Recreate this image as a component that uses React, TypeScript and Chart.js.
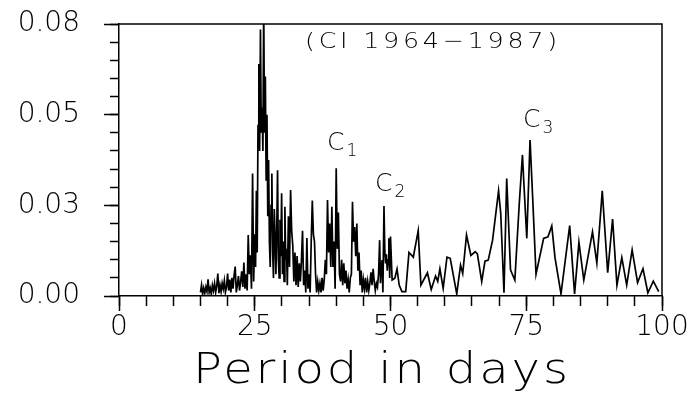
import React, { useEffect, useRef } from 'react';
import { Chart, registerables } from 'chart.js';

Chart.register(...registerables);

// ---- data (period in days, spectral power) ----
const periodDense = [
  15.0, 15.2, 15.4, 15.6, 15.8, 16.0, 16.2, 16.4, 16.6, 16.8,
  17.0, 17.2, 17.4, 17.6, 17.8, 18.0, 18.2, 18.4, 18.6, 18.8,
  19.0, 19.2, 19.4, 19.6, 19.8, 20.0, 20.2, 20.4, 20.6, 20.8,
  21.0, 21.2, 21.4, 21.6, 21.8, 22.0, 22.2, 22.4, 22.6, 22.8,
  23.0, 23.2, 23.4, 23.6, 23.8, 24.0, 24.2, 24.4, 24.6, 24.8,
  25.0, 25.15, 25.3, 25.45, 25.6, 25.75, 25.9, 26.05, 26.2, 26.35,
  26.5, 26.65, 26.8, 26.95, 27.1, 27.25, 27.4, 27.55, 27.7, 27.85,
  28.0, 28.15, 28.3, 28.45, 28.6, 28.75, 28.9, 29.05, 29.2, 29.35,
  29.5, 29.65, 29.8, 29.95, 30.1, 30.25, 30.4, 30.55, 30.7, 30.85,
  31.0, 31.2, 31.4, 31.6, 31.8, 32.0, 32.2, 32.4, 32.6, 32.8,
  33.0, 33.2, 33.4, 33.6, 33.8, 34.0, 34.2, 34.4, 34.6, 34.8,
  35.0, 35.2, 35.4, 35.6, 35.8, 36.0, 36.2, 36.4, 36.6, 36.8,
  37.0, 37.2, 37.4, 37.6, 37.8, 38.0, 38.2, 38.4, 38.6, 38.8,
  39.0, 39.2, 39.4, 39.6, 39.8, 40.0, 40.2, 40.4, 40.6, 40.8,
  41.0, 41.2, 41.4, 41.6, 41.8, 42.0, 42.2, 42.4, 42.6, 42.8,
  43.0, 43.2, 43.4, 43.6, 43.8, 44.0, 44.2, 44.4, 44.6, 44.8,
  45.0, 45.2, 45.4, 45.6, 45.8, 46.0, 46.2, 46.4, 46.6, 46.8,
  47.0, 47.2, 47.4, 47.6, 47.8, 48.0, 48.15, 48.3, 48.45, 48.6,
  48.8, 48.95, 49.1, 49.25, 49.4, 49.55, 49.7, 49.85, 50.0,
];
const powerDense = [
  0.0010, 0.0030, 0.0005, 0.0022, 0.0008, 0.0025, 0.0012, 0.0046, 0.0010, 0.0022,
  0.0005, 0.0030, 0.0015, 0.0035, 0.0010, 0.0028, 0.0062, 0.0008, 0.0030, 0.0012,
  0.0035, 0.0020, 0.0042, 0.0010, 0.0025, 0.0062, 0.0015, 0.0045, 0.0010, 0.0050,
  0.0020, 0.0058, 0.0081, 0.0010, 0.0030, 0.0055, 0.0015, 0.0040, 0.0068, 0.0025,
  0.0092, 0.0020, 0.0060, 0.0015, 0.0168, 0.0060, 0.0112, 0.0020, 0.0338, 0.0040,
  0.0170, 0.0080, 0.0290, 0.0120, 0.0470, 0.0640, 0.0400, 0.0735, 0.0450, 0.0520,
  0.0400, 0.0800, 0.0450, 0.0605, 0.0320, 0.0500, 0.0220, 0.0375, 0.0150, 0.0080,
  0.0250, 0.0338, 0.0120, 0.0050, 0.0240, 0.0160, 0.0060, 0.0180, 0.0347, 0.0100,
  0.0050, 0.0210, 0.0110, 0.0283, 0.0060, 0.0150, 0.0040, 0.0246, 0.0100, 0.0130,
  0.0030, 0.0220, 0.0080, 0.0292, 0.0180, 0.0140, 0.0040, 0.0120, 0.0030, 0.0110,
  0.0025, 0.0090, 0.0040, 0.0100, 0.0180, 0.0030, 0.0070, 0.0010, 0.0160, 0.0020,
  0.0060, 0.0010, 0.0150, 0.0263, 0.0170, 0.0150, 0.0060, 0.0010, 0.0040, 0.0015,
  0.0035, 0.0010, 0.0050, 0.0015, 0.0045, 0.0100, 0.0060, 0.0265, 0.0120, 0.0200,
  0.0080, 0.0246, 0.0080, 0.0150, 0.0020, 0.0352, 0.0130, 0.0230, 0.0060, 0.0040,
  0.0100, 0.0030, 0.0090, 0.0035, 0.0070, 0.0020, 0.0045, 0.0010, 0.0050, 0.0060,
  0.0260, 0.0150, 0.0190, 0.0110, 0.0200, 0.0070, 0.0120, 0.0030, 0.0070, 0.0010,
  0.0045, 0.0020, 0.0050, 0.0010, 0.0040, 0.0015, 0.0035, 0.0065, 0.0030, 0.0075,
  0.0040, 0.0015, 0.0035, 0.0025, 0.0060, 0.0154, 0.0035, 0.0075, 0.0099, 0.0010,
  0.0248, 0.0125, 0.0090, 0.0115, 0.0070, 0.0100, 0.0159, 0.0050, 0.0164,
];
const periodSparse = [
  50.3, 50.8, 51.2, 51.6, 52.1, 52.8, 53.4, 54.2, 55.1, 55.6,
  56.8, 57.5, 58.3, 58.7, 59.1, 59.7, 60.4, 61.0, 62.2, 62.9,
  63.3, 64.0, 64.8, 65.6, 66.0, 66.8, 67.4, 68.0, 68.8, 69.9,
  70.3, 70.9, 71.4, 72.1, 72.9, 73.7, 74.3, 74.6, 75.1, 75.7,
  76.2, 76.8, 78.2, 79.0, 79.7, 80.3, 81.4, 83.0, 83.9, 84.7,
  85.6, 87.2, 88.0, 89.0, 90.0, 90.9, 91.7, 92.6, 93.5, 94.5,
  95.5, 96.5, 97.4, 98.4, 99.4,
];
const powerSparse = [
  0.0044, 0.0049, 0.0074, 0.0030, 0.0012, 0.0012, 0.0120, 0.0107, 0.0180, 0.0030,
  0.0064, 0.0018, 0.0055, 0.0040, 0.0075, 0.0021, 0.0107, 0.0104, 0.0006, 0.0085,
  0.0062, 0.0168, 0.0112, 0.0122, 0.0116, 0.0040, 0.0096, 0.0099, 0.0154, 0.0290,
  0.0228, 0.0009, 0.0324, 0.0072, 0.0044, 0.0251, 0.0389, 0.0300, 0.0159, 0.0430,
  0.0265, 0.0060, 0.0159, 0.0163, 0.0193, 0.0105, 0.0006, 0.0194, 0.0006, 0.0148,
  0.0044, 0.0177, 0.0091, 0.0290, 0.0064, 0.0212, 0.0030, 0.0106, 0.0030, 0.0127,
  0.0037, 0.0075, 0.0009, 0.0041, 0.0012,
];

// ---- ticks and labels ----
const xMajorTicks = [0, 25, 50, 75, 100];
const xMinorTicks = [0, 5, 10, 15, 20, 25, 30, 35, 40, 45, 50, 55, 60, 65, 70, 75, 80, 85, 90, 95, 100];
const yMajorTicks = [0, 0.025, 0.05, 0.075];
const yTickLabels = ['0.00', '0.03', '0.05', '0.08'];
const yMinorTicks = [0, 0.005, 0.01, 0.015, 0.02, 0.025, 0.03, 0.035, 0.04, 0.045, 0.05, 0.055, 0.06, 0.065, 0.07, 0.075];
const chartTitle = '(CI 1964\u22121987)';
const xAxisTitle = 'Period in days';
const peakNames = ['C', 'C', 'C'];
const peakSubs = ['1', '2', '3'];
const peakPeriods = [38.3, 47.15, 74.4];
const peakPowers = [0.0403, 0.0289, 0.0466];

const FAMILY = '"DejaVu Sans", "Liberation Sans", sans-serif';
const WEIGHT = 200;
const fontStr = (size: number) => `${WEIGHT} ${size}px ${FAMILY}`;

function drawSpaced(ctx: CanvasRenderingContext2D, text: string, size: number, cx: number, baseline: number, width: number, sx: number) {
  ctx.save();
  ctx.font = fontStr(size);
  (ctx as any).letterSpacing = '0px';
  const w = ctx.measureText(text).width * sx;
  const n = Array.from(text).length;
  const ls = n > 1 ? (width - w) / (n - 1) / sx : 0;
  (ctx as any).letterSpacing = `${ls}px`;
  ctx.textAlign = 'left';
  ctx.textBaseline = 'alphabetic';
  ctx.translate(cx - width / 2, baseline);
  ctx.scale(sx, 1);
  ctx.fillText(text, 0, 0);
  ctx.restore();
}

const decorPlugin = {
  id: 'decor',
  afterDraw(chart: any) {
    const { ctx, chartArea, scales } = chart;
    ctx.save();
    ctx.strokeStyle = '#000';
    ctx.lineWidth = 1.5;
    ctx.beginPath();
    ctx.moveTo(chartArea.left, chartArea.top);
    ctx.lineTo(chartArea.right, chartArea.top);
    ctx.lineTo(chartArea.right, chartArea.bottom);
    ctx.stroke();

    ctx.fillStyle = '#000';
    drawSpaced(ctx, chartTitle, 22, 431, 48, 252, 1.15);
    drawSpaced(ctx, xAxisTitle, 43, 380.5, 383, 375, 1.12);

    ctx.textAlign = 'left';
    ctx.textBaseline = 'alphabetic';
    for (let i = 0; i < peakNames.length; i++) {
      const px = scales.x.getPixelForValue(peakPeriods[i]);
      const py = scales.y.getPixelForValue(peakPowers[i]);
      ctx.font = fontStr(25);
      ctx.fillText(peakNames[i], px, py);
      const cw = ctx.measureText(peakNames[i]).width;
      ctx.font = fontStr(17);
      ctx.fillText(peakSubs[i], px + cw + 2, py + 6);
    }
    ctx.restore();
  },
};

export default function App() {
  const ref = useRef<HTMLCanvasElement | null>(null);

  useEffect(() => {
    if (!ref.current) return;
    const points = [
      ...periodDense.map((p, i) => ({ x: p, y: powerDense[i] })),
      ...periodSparse.map((p, i) => ({ x: p, y: powerSparse[i] })),
    ];
    const tickFont = { family: FAMILY, size: 28, weight: WEIGHT as any };
    const noPad = (s: any) => { s.paddingTop = 0; s.paddingBottom = 0; s.paddingLeft = 0; s.paddingRight = 0; };
    const chart = new Chart(ref.current, {
      type: 'line',
      data: {
        datasets: [
          {
            data: points,
            borderColor: '#000',
            borderWidth: 1.7,
            pointRadius: 0,
            fill: false,
            tension: 0,
          },
        ],
      },
      options: {
        animation: false,
        responsive: true,
        maintainAspectRatio: false,
        layout: { padding: { left: 0, right: 28, top: 24, bottom: 0 } },
        plugins: { legend: { display: false }, tooltip: { enabled: false } },
        scales: {
          x: {
            type: 'linear',
            position: 'bottom',
            min: 0,
            max: 100,
            weight: 1,
            afterBuildTicks: (s: any) => { s.ticks = xMajorTicks.map((v) => ({ value: v })); },
            afterFit: (s: any) => { s.height = 98; noPad(s); },
            ticks: { font: tickFont, color: '#000', padding: 0, maxRotation: 0, autoSkip: false, callback: (v: any) => String(v) },
            grid: { drawOnChartArea: false, drawTicks: true, tickLength: 15, color: '#000', tickWidth: 1.5 },
            border: { display: true, color: '#000', width: 1.5 },
          },
          x2: {
            type: 'linear',
            position: 'bottom',
            min: 0,
            max: 100,
            weight: 0,
            afterBuildTicks: (s: any) => { s.ticks = xMinorTicks.map((v) => ({ value: v })); },
            afterFit: (s: any) => { s.height = 0; noPad(s); },
            ticks: { display: false },
            grid: { drawOnChartArea: false, drawTicks: true, tickLength: 10, color: '#000', tickWidth: 1.5 },
            border: { display: false },
          },
          y: {
            type: 'linear',
            position: 'left',
            min: 0,
            max: 0.075,
            weight: 1,
            afterBuildTicks: (s: any) => { s.ticks = yMajorTicks.map((v) => ({ value: v })); },
            afterFit: (s: any) => { s.width = 119; noPad(s); },
            ticks: { font: tickFont, color: '#000', padding: 24, autoSkip: false, callback: (_v: any, i: number) => yTickLabels[i] },
            grid: { drawOnChartArea: false, drawTicks: true, tickLength: 15, color: '#000', tickWidth: 1.5 },
            border: { display: true, color: '#000', width: 1.5 },
          },
          y2: {
            type: 'linear',
            position: 'left',
            min: 0,
            max: 0.075,
            weight: 0,
            afterBuildTicks: (s: any) => { s.ticks = yMinorTicks.map((v) => ({ value: v })); },
            afterFit: (s: any) => { s.width = 0; noPad(s); },
            ticks: { display: false },
            grid: { drawOnChartArea: false, drawTicks: true, tickLength: 9, color: '#000', tickWidth: 1.5 },
            border: { display: false },
          },
        },
      },
      plugins: [decorPlugin],
    });
    return () => chart.destroy();
  }, []);

  return (
    <div style={{ position: 'fixed', left: 0, top: 0, width: 690, height: 394, background: '#fff' }}>
      <canvas ref={ref} />
    </div>
  );
}
